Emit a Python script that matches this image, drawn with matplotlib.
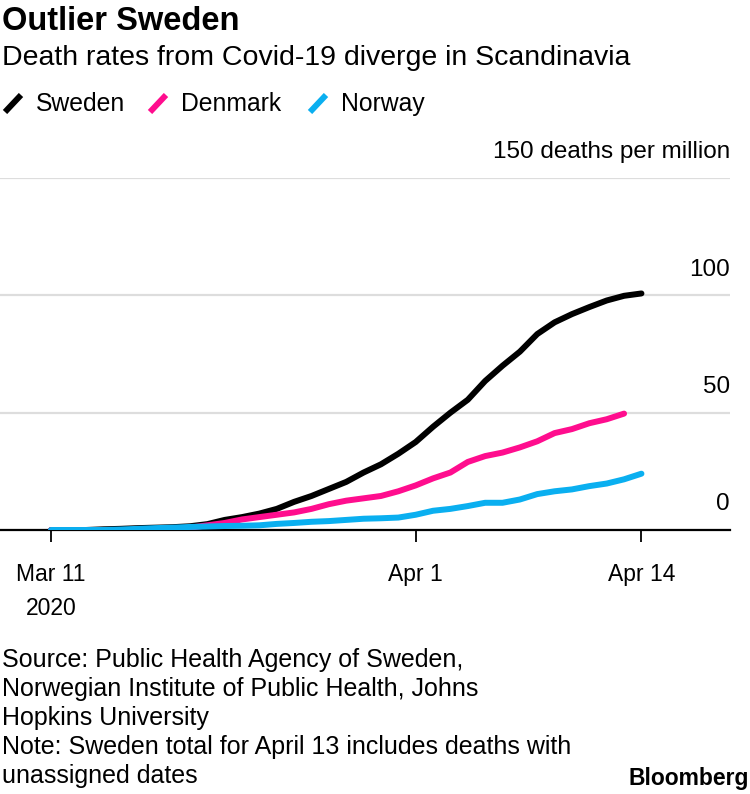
import numpy as np
import pandas as pd
import matplotlib
matplotlib.use("Agg")
import matplotlib.pyplot as plt
from matplotlib.lines import Line2D

plt.rcParams['font.family'] = ['Liberation Sans', 'DejaVu Sans']

# daily deaths per million, Mar 11 - Apr 14 2020
dates = pd.date_range("2020-03-11", "2020-04-14", freq="D")
sweden = [0, 0, 0, 0.3, 0.5, 0.8, 1.0, 1.2, 1.6, 2.5,
          4.3, 5.5, 7.0, 9.0, 12.0, 14.5, 17.5, 20.5, 24.5, 28.0,
          32.5, 37.5, 44.0, 50.0, 55.5, 63.5, 70.0, 76.0, 83.5, 88.5,
          92.0, 95.0, 97.8, 99.8, 100.8]
denmark = [0, 0, 0, 0, 0, 0, 0.3, 0.5, 1.0, 2.0,
           3.0, 4.5, 5.5, 6.5, 7.5, 9.0, 11.0, 12.5, 13.5, 14.5,
           16.5, 19.0, 22.0, 24.5, 29.0, 31.5, 33.0, 35.2, 37.8, 41.3,
           43.0, 45.5, 47.2, 49.6, np.nan]
norway = [0, 0, 0, 0, 0.2, 0.5, 0.8, 1.0, 1.3, 1.5,
          1.7, 1.8, 2.0, 2.6, 3.0, 3.5, 3.8, 4.3, 4.8, 5.0,
          5.3, 6.5, 8.2, 9.0, 10.2, 11.6, 11.6, 13.0, 15.3, 16.5,
          17.3, 18.7, 19.8, 21.6, 24.0]

names = ["Sweden", "Denmark", "Norway"]
colors = ["#000000", "#ff0d8e", "#0aaff0"]
yticks = [0, 50, 100, 150]
ylabels = ["0", "50", "100", "150 deaths per million"]
xticks = ["2020-03-11", "2020-04-01", "2020-04-14"]
xlabels = ["Mar 11\n2020", "Apr 1", "Apr 14"]

fig = plt.figure(figsize=(7.5, 7.94), dpi=100)
ax = fig.add_axes([0, 1 - 530 / 794, 730 / 750, (530 - 178) / 794])

for vals, c in zip([sweden, denmark, norway], colors):
    ax.plot(dates, vals, color=c, lw=4.3, solid_capstyle="round",
            solid_joinstyle="round", zorder=3)

day = pd.Timedelta(days=1)
ax.set_xlim(dates[0] - 2.94 * day, dates[0] + 39.1 * day)
ax.set_ylim(0, 150)

for s in ["top", "right", "left"]:
    ax.spines[s].set_visible(False)
ax.spines["bottom"].set_linewidth(1.6)
ax.spines["bottom"].set_zorder(2)

ax.set_yticks(yticks)
ax.set_yticklabels([])
ax.tick_params(axis="y", length=0)
ax.grid(axis="y", color="#dddddd", lw=1.6, zorder=1)
for v, lab in zip(yticks, ylabels):
    ax.annotate(lab, xy=(1, v), xycoords=("axes fraction", "data"),
                xytext=(0, 18.5), textcoords="offset points",
                ha="right", va="center", fontsize=17.5)

ax.set_xticks(pd.to_datetime(xticks))
ax.set_xticklabels(xlabels, fontsize=16.5, linespacing=1.6, va="top")
ax.tick_params(axis="x", length=8.6, width=1.3, pad=15, direction="out")

fig.text(0.002, 1 - 21 / 794, "Outlier Sweden", fontsize=23.5, fontweight="bold",
         va="center", ha="left")
fig.text(0.002, 1 - 58 / 794, "Death rates from Covid-19 diverge in Scandinavia",
         fontsize=20.5, va="center", ha="left")

leg_x = [5, 150, 310]
for x0, name, c in zip(leg_x, names, colors):
    fig.add_artist(Line2D([x0 / 750, (x0 + 16) / 750],
                          [1 - 112 / 794, 1 - 95 / 794],
                          color=c, lw=4.3, solid_capstyle="butt"))
    fig.text((x0 + 31) / 750, 1 - 104 / 794, name, fontsize=17.8,
             va="center", ha="left")

notes = ("Source: Public Health Agency of Sweden,\n"
         "Norwegian Institute of Public Health, Johns\n"
         "Hopkins University\n"
         "Note: Sweden total for April 13 includes deaths with\n"
         "unassigned dates")
fig.text(0.002, 1 - 648 / 794, notes, fontsize=18, va="top", ha="left",
         linespacing=1.26)
fig.text(0.999, 1 - 779 / 794, "Bloomberg", fontsize=16.5, fontweight="bold",
         va="center", ha="right")

fig.savefig("out.png", dpi=100)
